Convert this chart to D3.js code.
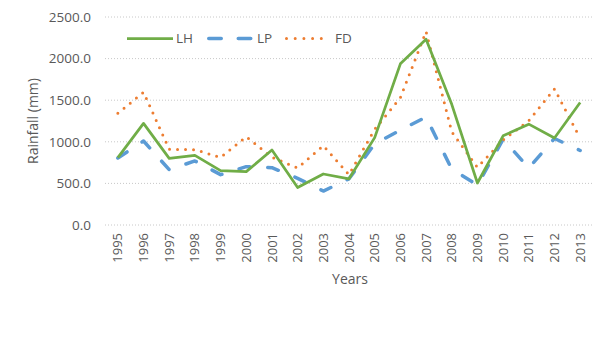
<!DOCTYPE html>
<html><head><meta charset="utf-8">
<script src="https://cdn.jsdelivr.net/npm/d3@7"></script>
<style>body{margin:0;background:#fff;}svg{display:block;}</style>
</head><body>
<svg id="c" width="614" height="344"></svg>
<script>
const years = ["1995","1996","1997","1998","1999","2000","2001","2002","2003","2004","2005","2006","2007","2008","2009","2010","2011","2012","2013"];
const LH = [810,1222,801,837,653,641,901,450,613,555,1050,1937,2232,1450,505,1072,1212,1045,1473];
const LP = [805,1010,665,770,605,701,689,561,408,555,975,1140,1297,672,481,1030,685,1040,895];
const FD = [1343,1595,910,905,813,1062,815,685,953,605,1150,1530,2325,1120,693,1022,1254,1635,1042];
const yTicks = [0,500,1000,1500,2000,2500];
const seriesNames = ["LH","LP","FD"];

const svg = d3.select("#c");
const font = "'Open Sans', sans-serif";
const txt = "#595959";
const L = 105, R = 593, T = 17, B = 225;
const x = d3.scaleBand().domain(years).range([L, R]);
const y = d3.scaleLinear().domain([0,2500]).range([B, T]);

// gridlines
svg.append("g").selectAll("line").data(yTicks).join("line")
  .attr("x1", L).attr("x2", R).attr("y1", d=>y(d)).attr("y2", d=>y(d))
  .attr("stroke", "#c8c8c8").attr("stroke-width", 1).attr("stroke-dasharray", "1,2");

// y axis labels
const yAxis = d3.axisLeft(y).tickValues(yTicks).tickFormat(d=>d3.format(".1f")(d)).tickSize(0).tickPadding(14);
const yg = svg.append("g").attr("transform", `translate(${L},0)`).call(yAxis);
yg.select(".domain").remove();
yg.selectAll("text").attr("font-family", font).attr("font-size", 13.5).attr("fill", txt);

// x axis labels
const xAxis = d3.axisBottom(x).tickSize(0).tickPadding(0);
const xg = svg.append("g").attr("transform", `translate(0,${B})`).call(xAxis);
xg.select(".domain").remove();
xg.selectAll("text").attr("font-family", font).attr("font-size", 13).attr("fill", txt)
  .attr("transform", "rotate(-90)").attr("text-anchor", "end").attr("dy", "0.35em")
  .attr("x", -8).attr("y", 0);

// titles
svg.append("text").attr("x", 350).attr("y", 284).attr("text-anchor", "middle")
  .attr("font-family", font).attr("font-size", 14).attr("fill", txt).text("Years");
svg.append("text").attr("transform", "translate(38,121) rotate(-90)").attr("text-anchor", "middle")
  .attr("font-family", font).attr("font-size", 14).attr("fill", txt).text("Rainfall (mm)");

const styles = {
  LH: {color:"#70AD47", width:2.75, dash:null, cap:"butt"},
  LP: {color:"#5B9BD5", width:3.5, dash:"11,18", cap:"round"},
  FD: {color:"#ED7D31", width:3, dash:"0,8", cap:"round"}
};
const data = {LH, LP, FD};
const line = d3.line().x((d,i)=>x(years[i]) + x.bandwidth()/2).y(d=>y(d));

["LP","FD","LH"].forEach(k=>{
  const s = styles[k];
  svg.append("path").datum(data[k]).attr("d", line)
    .attr("fill","none").attr("stroke", s.color).attr("stroke-width", s.width)
    .attr("stroke-linejoin","round").attr("stroke-linecap", s.cap)
    .attr("stroke-dasharray", s.dash);
});

// legend
const legend = [
  {k:"LH", x1:127, x2:173, tx:176},
  {k:"LP", x1:207, x2:253, tx:257},
  {k:"FD", x1:285, x2:331, tx:335}
];
const ly = 38.5;
legend.forEach(l=>{
  const s = styles[l.k];
  svg.append("line").attr("x1", l.x1 + (s.cap==="round"? s.width/2:0)).attr("x2", l.x2 - (s.cap==="round"? s.width/2:0))
    .attr("y1", ly).attr("y2", ly)
    .attr("stroke", s.color).attr("stroke-width", s.width).attr("stroke-linecap", s.cap)
    .attr("stroke-dasharray", l.k==="LP" ? "12.5,17" : (l.k==="FD" ? "0,8.7" : null));
  svg.append("text").attr("x", l.tx).attr("y", ly).attr("dy","0.35em")
    .attr("font-family", font).attr("font-size", 13.5).attr("fill", txt).text(l.k);
});
</script>
</body></html>
